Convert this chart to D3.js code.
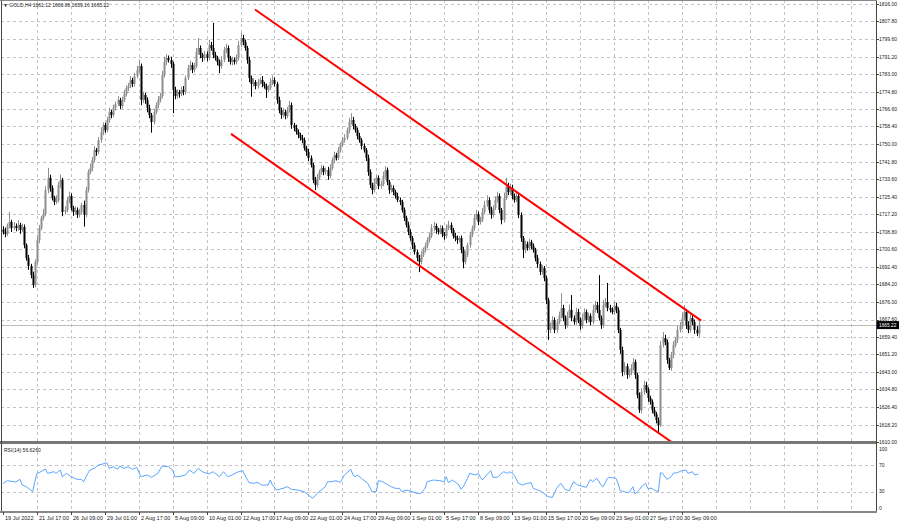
<!DOCTYPE html>
<html><head><meta charset="utf-8">
<script src="https://cdn.jsdelivr.net/npm/d3@7"></script>
<style>body{margin:0;background:#fff}svg{display:block}text{font-family:"Liberation Sans",Arial,sans-serif;fill:#1a1a1a}</style>
</head><body><svg id="c" width="900" height="523"></svg>
<script>
const symbolTitle = "GOLD,H4";
const lastOHLC = [1661.12, 1666.86, 1659.16, 1665.22];
const firstOpen = 1710.0;
const closes = [
1708.8,1707.8,1711.6,1713.5,1710.6,1711.6,1710.6,1712.1,1709.7,1711.1,
1702.6,1696.5,1692.8,1688.5,1683.8,1694.7,1705.0,1710.6,1715.4,1717.2,
1728.5,1734.2,1729.5,1724.8,1722.9,1723.8,1730.9,1733.2,1718.2,1719.1,
1723.8,1725.7,1720.1,1718.2,1719.1,1716.8,1718.2,1721.5,1716.8,1728.5,
1737.0,1738.9,1742.6,1747.3,1746.4,1752.0,1755.8,1759.1,1756.7,1761.4,
1765.2,1763.8,1767.1,1769.0,1770.9,1768.0,1770.9,1773.7,1776.5,1777.4,
1780.3,1778.4,1782.1,1785.0,1786.8,1770.9,1773.2,1770.9,1767.1,1763.8,
1760.5,1765.2,1768.5,1770.9,1772.7,1782.6,1788.7,1790.6,1789.7,1787.8,
1775.6,1772.7,1774.6,1773.7,1775.6,1774.6,1781.2,1785.9,1787.3,1785.0,
1786.8,1793.4,1795.3,1792.0,1790.6,1792.5,1790.6,1796.7,1795.3,1792.0,
1790.6,1788.7,1786.8,1789.7,1794.4,1795.3,1790.6,1788.7,1789.7,1788.7,
1790.6,1796.7,1800.0,1798.1,1795.3,1789.7,1781.2,1778.4,1779.3,1777.4,
1779.3,1780.3,1778.4,1777.4,1775.6,1776.5,1779.3,1780.3,1778.4,1770.9,
1766.1,1763.8,1765.2,1763.3,1766.1,1768.5,1759.1,1757.7,1755.8,1754.4,
1753.0,1752.0,1748.3,1746.4,1743.6,1740.3,1733.2,1730.9,1734.2,1737.0,
1738.9,1737.0,1737.9,1735.1,1738.9,1742.6,1745.0,1743.6,1747.3,1749.7,
1752.0,1753.0,1756.7,1760.5,1761.4,1758.6,1756.7,1753.9,1752.0,1749.2,
1747.3,1743.6,1737.0,1730.9,1728.5,1732.3,1734.2,1730.4,1731.3,1735.1,
1737.9,1732.3,1728.5,1729.5,1727.6,1725.7,1723.8,1722.9,1719.1,1715.4,
1712.1,1708.8,1705.9,1702.6,1699.4,1696.5,1694.7,1698.0,1700.3,1702.2,
1705.0,1706.9,1710.6,1711.6,1709.7,1708.8,1710.6,1707.8,1706.9,1710.6,
1712.1,1709.7,1706.9,1705.9,1705.0,1705.9,1700.3,1694.7,1698.0,1702.6,
1707.4,1710.6,1715.4,1717.2,1713.5,1714.4,1718.2,1721.5,1723.8,1719.1,
1716.8,1720.1,1723.8,1725.7,1719.1,1714.4,1724.8,1730.4,1727.6,1729.5,
1725.7,1723.8,1725.7,1716.8,1705.9,1700.3,1703.1,1701.2,1704.1,1702.2,
1700.3,1696.5,1693.7,1690.0,1691.8,1687.1,1676.8,1662.7,1664.6,1667.4,
1662.7,1666.4,1669.3,1673.0,1668.3,1665.0,1669.3,1672.1,1668.3,1666.4,
1671.1,1667.4,1664.6,1668.3,1671.1,1667.4,1669.3,1666.4,1672.1,1674.4,
1672.1,1668.3,1665.0,1674.4,1675.8,1673.0,1672.1,1671.1,1674.0,1672.1,
1662.7,1653.3,1642.9,1645.7,1641.5,1642.9,1644.8,1647.6,1641.5,1632.1,
1625.0,1633.5,1636.8,1634.5,1630.7,1628.8,1625.0,1623.2,1620.3,1618.0,
1655.6,1658.9,1657.0,1648.6,1644.8,1650.9,1655.6,1658.0,1662.7,1664.6,
1668.3,1671.1,1665.0,1662.7,1668.3,1666.4,1662.7,1661.12,1665.22];
const upWick = [
1.5,2.0,1.2,4.7,1.0,1.8,1.2,2.2,1.0,1.5,
1.2,0.8,1.5,1.0,1.6,1.2,2.0,1.5,1.0,2.5,
1.8,4.7,1.5,1.2,1.0,2.2,1.5,2.5,1.0,1.8,
1.5,2.0,1.2,1.0,1.8,1.2,1.5,1.0,2.0,1.5,
1.2,2.0,1.5,1.8,1.0,1.5,2.2,1.2,1.0,1.5,
2.0,1.0,1.5,1.2,1.8,1.0,1.5,2.0,1.2,1.5,
1.8,1.0,1.5,2.0,3.0,1.2,1.5,1.0,1.2,1.5,
1.0,1.5,1.2,1.8,1.5,2.0,2.5,1.8,1.2,1.5,
1.0,1.5,1.2,1.0,1.5,1.8,1.2,1.5,2.0,1.2,
1.5,2.0,4.7,1.2,1.0,1.5,1.2,2.5,1.5,11.8,
1.5,1.0,1.2,1.8,1.5,2.0,1.2,1.0,1.5,1.2,
1.5,2.0,2.4,1.5,1.2,1.0,1.5,1.2,1.8,1.0,
1.5,1.2,1.8,1.0,1.2,1.5,1.8,2.0,1.2,1.0,
1.5,1.2,1.8,1.0,1.5,2.0,1.2,1.0,1.5,1.2,
1.0,1.5,1.2,1.0,1.5,1.2,1.0,1.5,1.8,1.2,
1.5,1.0,1.2,1.5,1.8,1.2,1.5,1.0,1.5,1.2,
1.5,1.8,1.2,2.0,3.3,1.5,1.0,1.2,1.5,1.0,
1.2,1.0,1.5,1.2,1.0,1.8,1.5,1.2,1.5,2.0,
1.8,1.2,1.0,1.5,1.2,1.0,1.5,1.2,1.0,1.2,
1.0,1.5,1.2,1.0,1.2,1.0,1.5,1.8,1.2,1.5,
1.2,1.5,1.8,2.0,1.2,1.0,1.5,1.2,1.0,1.8,
2.0,1.2,1.0,1.5,1.2,1.0,1.2,1.5,1.8,1.2,
1.5,1.2,1.8,2.0,1.2,1.5,1.8,2.0,2.2,1.2,
1.5,1.2,1.8,2.0,1.2,1.0,2.5,3.8,1.5,2.0,
1.5,1.2,1.8,1.0,1.2,1.0,1.5,1.2,1.5,1.0,
1.2,1.0,1.5,1.2,1.5,1.0,1.2,1.0,1.5,1.8,
1.2,1.5,2.0,7.0,1.5,1.2,2.0,2.5,7.0,1.2,
2.0,1.5,1.2,2.0,1.8,1.2,1.5,1.2,2.5,2.0,
1.5,16.4,1.2,2.5,2.0,9.0,1.5,1.2,2.0,1.5,
1.2,1.0,1.5,1.8,1.2,1.5,1.8,1.9,1.2,1.0,
1.2,1.8,2.0,1.5,1.2,1.0,1.2,1.5,1.0,1.2,
2.0,2.8,1.5,1.2,1.0,1.5,1.8,1.5,2.0,1.8,
2.5,3.3,1.5,1.8,2.4,1.5,1.2,1.8,1.64];
const dnWick = [
1.2,1.5,1.0,1.2,1.8,1.0,1.5,1.2,1.8,1.0,
1.5,1.2,1.8,1.5,1.3,1.0,1.2,1.5,1.0,1.2,
1.0,1.5,1.8,1.2,1.5,1.0,1.2,1.5,2.0,1.2,
1.0,1.5,1.2,1.8,1.0,1.5,1.2,1.0,5.5,1.0,
1.2,1.0,1.5,1.2,1.8,1.0,1.2,1.5,1.2,1.0,
1.2,1.5,1.0,1.2,1.0,1.5,1.2,1.0,1.2,1.5,
1.0,1.5,1.2,1.0,1.2,2.5,1.5,1.8,2.0,1.5,
5.0,1.2,1.0,1.5,1.2,1.0,1.2,1.5,1.2,1.8,
10.9,1.5,1.2,1.8,1.0,1.5,1.2,1.0,1.2,1.5,
1.2,1.0,1.2,1.5,1.8,1.2,1.5,1.0,1.2,1.5,
1.2,1.5,3.3,1.2,1.0,1.5,1.8,1.2,1.5,1.2,
1.0,1.2,1.0,1.5,1.2,1.8,2.0,6.0,1.2,1.5,
1.2,1.0,1.5,1.2,3.8,1.2,1.0,1.5,1.2,1.8,
1.5,1.8,1.2,1.5,1.0,1.2,1.8,1.5,1.2,1.5,
1.2,1.5,1.2,1.8,1.5,1.2,1.5,2.4,1.2,1.0,
1.2,1.5,1.0,1.8,1.2,1.0,1.5,1.2,1.0,1.2,
1.0,1.2,1.0,1.5,1.2,1.5,1.2,1.5,1.2,1.5,
1.2,1.5,1.8,1.5,2.0,1.2,1.0,1.5,1.2,1.0,
1.2,1.5,1.8,1.2,1.5,1.2,1.0,1.5,1.2,1.5,
1.2,1.5,1.2,1.8,1.2,1.5,4.8,1.2,1.0,1.2,
1.0,1.2,1.0,1.5,1.8,1.2,1.0,1.5,1.8,1.2,
1.0,1.5,1.2,1.5,1.8,1.2,1.5,3.0,1.2,1.0,
1.2,1.0,1.2,1.0,1.5,1.2,1.0,1.2,1.0,1.5,
1.8,1.2,1.0,1.2,1.5,2.0,1.2,1.0,1.5,1.2,
1.5,1.2,1.0,1.5,1.8,3.8,1.5,1.2,1.0,1.5,
1.2,1.5,1.8,1.5,1.2,1.5,2.0,4.7,1.5,1.2,
1.5,1.2,1.0,1.2,1.5,1.8,1.2,1.0,1.5,1.2,
1.2,1.5,1.8,1.2,1.0,1.5,1.2,1.5,1.0,1.2,
1.5,1.2,1.8,1.2,1.0,1.5,1.2,1.0,1.2,1.5,
1.5,1.8,2.0,1.5,1.8,1.2,1.5,1.2,1.8,1.5,
1.3,1.5,1.2,1.5,1.8,1.2,1.5,1.2,1.5,3.3,
1.0,1.2,1.5,1.8,0.9,1.2,1.5,1.2,1.5,1.2,
1.5,1.2,1.8,1.5,1.2,1.5,1.8,1.2,1.96];
const priceTicks = [1816.00,1807.80,1799.60,1791.20,1783.00,1774.80,1766.60,1758.40,1750.00,1741.80,1733.60,1725.40,1717.20,1708.80,1700.60,1692.40,1684.20,1676.00,1667.60,1659.40,1651.20,1643.00,1634.80,1626.40,1618.20,1610.00];
const timeLabels = ["19 Jul 2022","21 Jul 17:00","26 Jul 09:00","29 Jul 01:00","2 Aug 17:00","5 Aug 09:00","10 Aug 01:00","12 Aug 17:00","17 Aug 09:00","22 Aug 01:00","24 Aug 17:00","29 Aug 09:00","1 Sep 01:00","5 Sep 17:00","8 Sep 09:00","13 Sep 01:00","15 Sep 17:00","20 Sep 09:00","23 Sep 01:00","27 Sep 17:00","30 Sep 09:00"];
const barsPerLabel = 16;
const rsiBars = [0,2,6,7,8,9,11,14,15,16,17,20,21,24,25,27,28,30,32,35,37,38,40,41,43,45,47,49,50,52,54,55,57,59,61,63,65,68,70,73,75,78,80,81,83,86,88,90,92,94,97,99,102,104,106,108,111,113,114,116,118,120,122,125,126,127,129,132,134,136,139,142,146,149,152,153,155,157,159,161,164,165,166,167,169,172,174,176,177,179,183,185,187,188,190,193,195,197,199,200,203,206,208,209,210,212,215,216,217,219,220,223,224,226,228,230,231,233,236,238,239,241,243,245,247,249,250,252,254,257,259,261,263,265,267,269,271,275,277,278,280,282,283,285,286,289,290,291,293,295,297,298,300,301,303,304,306,307,309,310,311,313,315,316,318,320,322,323,325,326,328];
const rsiValues = [42,46.5,44.5,46.5,48.5,40,37.5,30,45,57.5,58.5,64,57.5,60,57.5,62.5,52.5,57.5,52.5,48.5,48.5,45,57.5,62.5,65,70,71.5,73.5,65,67.5,63.5,68.5,65,67.5,63.5,66.5,52.5,55,51.5,57.5,68.5,67.5,62.5,52.5,52.5,55,62.5,57.5,65,60,56.5,60,52.5,60,52.5,55,60,61.5,55,43.5,42.5,44,40,40,47.5,40,32.5,35,37.5,33.5,32.5,30,20,30,37.5,45,45,46.5,44,55,63.5,55,52.5,55,50,42.5,30,30,46.5,45,37.5,35,35,30,32.5,30,27.5,27.5,35,45,47.5,46.5,45,52.5,43.5,47.5,40,33.5,37.5,50,57.5,55,57.5,47.5,55,61.5,51.5,51.5,60,57.5,60,55,42.5,40,42.5,43.5,35,32.5,30,22.5,21.5,35,42.5,33.5,31.5,45,40,36.5,48.5,45,50,40,37.5,50,51.5,50,42.5,31.5,30,28.5,37.5,26.5,32.5,37.5,42.5,35,35,32.5,30,58.5,57.5,48.5,52.5,57.5,58.5,61.5,62.5,57.5,60,55,56.626];
const rsiLevels = [70, 30];
const rsiAxisLabels = [100, 70, 30, 0];
const upperChannelBars = [118.8, 329.2];
const upperChannelPrices = [1813.4, 1667.1];
const lowerChannelBars = [107.5, 315.9];
const lowerChannelPrices = [1754.9, 1609.5];

const svg = d3.select("#c");
const plotRight = 876, mainBottom = 441.5, rsiTop = 445, rsiBottom = 511;
const x = d3.scaleLinear().domain([0, 320]).range([3, 681.7]);
const y = d3.scaleLinear().domain([1610, 1816]).range([442, 4]);
const yr = d3.scaleLinear().domain([0, 100]).range([511.7, 445]);

svg.append("rect").attr("width",900).attr("height",523).attr("fill","#fff");
const defs = svg.append("defs");
defs.append("clipPath").attr("id","mainClip").append("rect").attr("x",1).attr("y",0).attr("width",plotRight-1).attr("height",mainBottom);
defs.append("clipPath").attr("id","rsiClip").append("rect").attr("x",1).attr("y",rsiTop).attr("width",plotRight-1).attr("height",rsiBottom-rsiTop);

const grid = svg.append("g").attr("stroke","#c4c4c4").attr("stroke-dasharray","3,3").attr("stroke-width",1).attr("shape-rendering","crispEdges");
priceTicks.forEach(p => {
  grid.append("line").attr("x1",1).attr("x2",plotRight).attr("y1",Math.round(y(p))+0.5).attr("y2",Math.round(y(p))+0.5);
});
rsiLevels.forEach(v => {
  grid.append("line").attr("x1",1).attr("x2",plotRight).attr("y1",Math.round(yr(v))+0.5).attr("y2",Math.round(yr(v))+0.5);
});
for (let b = barsPerLabel; x(b) < plotRight; b += barsPerLabel) {
  const xv = Math.round(x(b)) + 0.5;
  grid.append("line").attr("x1",xv).attr("x2",xv).attr("y1",0).attr("y2",mainBottom-1);
  grid.append("line").attr("x1",xv).attr("x2",xv).attr("y1",rsiTop+1).attr("y2",rsiBottom);
}

// current price line
svg.append("line").attr("x1",1).attr("x2",plotRight).attr("y1",Math.round(y(lastOHLC[3]))+0.5).attr("y2",Math.round(y(lastOHLC[3]))+0.5)
  .attr("stroke","#bdbdbd").attr("stroke-width",1).attr("shape-rendering","crispEdges");

// candles
const bars = closes.map((c,i) => {
  const o = i === 0 ? firstOpen : closes[i-1];
  return {i, o, c, h: Math.max(o,c) + upWick[i], l: Math.min(o,c) - dnWick[i]};
});
const cg = svg.append("g").attr("clip-path","url(#mainClip)");
bars.forEach(d => {
  const bull = d.c >= d.o;
  const col = bull ? "#8e8e8e" : "#000";
  const xc = Math.round(x(d.i));
  cg.append("rect").attr("x",xc).attr("y",y(d.h)).attr("width",1).attr("height",Math.max(1,y(d.l)-y(d.h))).attr("fill",col);
  const top = y(Math.max(d.o,d.c)), bot = y(Math.min(d.o,d.c));
  cg.append("rect").attr("x",xc-0.5).attr("y",top).attr("width",2).attr("height",Math.max(1,bot-top)).attr("fill",col);
});

// channel lines
const lg = svg.append("g").attr("clip-path","url(#mainClip)");
lg.append("line").attr("x1",x(upperChannelBars[0])).attr("y1",y(upperChannelPrices[0])).attr("x2",x(upperChannelBars[1])).attr("y2",y(upperChannelPrices[1]))
  .attr("stroke","#ff0000").attr("stroke-width",2);
lg.append("line").attr("x1",x(lowerChannelBars[0])).attr("y1",y(lowerChannelPrices[0])).attr("x2",x(lowerChannelBars[1])).attr("y2",y(lowerChannelPrices[1]))
  .attr("stroke","#ff0000").attr("stroke-width",2);

// RSI line
const rsiPts = rsiBars.map((b,k) => [x(b), yr(rsiValues[k])]);
svg.append("path").attr("clip-path","url(#rsiClip)").attr("d", d3.line()(rsiPts)).attr("fill","none").attr("stroke","#5aa6ff").attr("stroke-width",1);

// frame
svg.append("rect").attr("x",0).attr("y",441).attr("width",plotRight+1).attr("height",3).attr("fill","#777");
svg.append("line").attr("x1",1.5).attr("x2",1.5).attr("y1",0).attr("y2",rsiBottom+1).attr("stroke","#444").attr("shape-rendering","crispEdges");
svg.append("line").attr("x1",plotRight+0.5).attr("x2",plotRight+0.5).attr("y1",0).attr("y2",rsiBottom+1).attr("stroke","#444").attr("shape-rendering","crispEdges");
svg.append("line").attr("x1",0).attr("x2",plotRight+1).attr("y1",0.5).attr("y2",0.5).attr("stroke","#888").attr("shape-rendering","crispEdges");
svg.append("rect").attr("x",0).attr("y",rsiBottom).attr("width",plotRight+1).attr("height",2).attr("fill","#888");

// price axis labels
const pa = svg.append("g");
priceTicks.forEach(p => {
  const yy = Math.round(y(p)) + 0.5;
  pa.append("line").attr("x1",plotRight).attr("x2",plotRight+3).attr("y1",yy).attr("y2",yy).attr("stroke","#444").attr("shape-rendering","crispEdges");
  pa.append("text").attr("x",879).attr("y",yy - (p === 1667.60 ? 1 : 0)).attr("dy","0.35em").attr("font-size",5).text(p.toFixed(2));
});
// current price box
const cy = y(lastOHLC[3]);
svg.append("rect").attr("x",plotRight+1).attr("y",cy-3.5).attr("width",22).attr("height",8).attr("fill","#000");
svg.append("text").attr("x",879).attr("y",cy+0.8).attr("dy","0.35em").attr("font-size",4.8).style("fill","#fff").text(lastOHLC[3].toFixed(2));

// RSI axis labels
rsiAxisLabels.forEach(v => {
  const yy = Math.min(Math.max(yr(v), 449), 508);
  svg.append("text").attr("x",879).attr("y",yy).attr("dy","0.35em").attr("font-size",5).text(v);
});

// time axis
timeLabels.forEach((t,k) => {
  const xv = Math.round(x(k*barsPerLabel)) + 0.5;
  svg.append("line").attr("x1",xv).attr("x2",xv).attr("y1",rsiBottom+1).attr("y2",rsiBottom+4).attr("stroke","#444").attr("shape-rendering","crispEdges");
  svg.append("text").attr("x",xv+1.5).attr("y",518).attr("dy","0.35em").attr("font-size",5.5).text(t);
});

// titles
svg.append("text").attr("x",3).attr("y",5.5).attr("dy","0.35em").attr("font-size",5).text("\u25BC " + symbolTitle + " " + lastOHLC.map(v=>v.toFixed(2)).join(" "));
svg.append("text").attr("x",4).attr("y",450).attr("dy","0.35em").attr("font-size",5).text("RSI(14) " + rsiValues[rsiValues.length-1].toFixed(4));
</script>
</body></html>
